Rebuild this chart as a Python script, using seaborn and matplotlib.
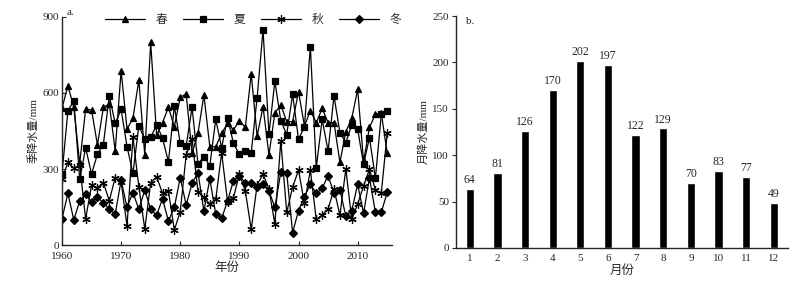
import matplotlib
matplotlib.use("Agg")
import matplotlib.pyplot as plt
import numpy as np
import pandas as pd
import seaborn as sns

# ---- data ----
years = list(range(1960, 2016))

spring = [539, 629, 543, 322, 537, 533, 395, 543, 557, 372,
          688, 458, 500, 651, 355, 800, 434, 483, 543, 467,
          583, 596, 362, 441, 592, 388, 388, 441, 480, 454,
          491, 464, 675, 430, 546, 355, 522, 553, 487, 487,
          605, 470, 530, 483, 539, 483, 483, 326, 447, 500,
          614, 330, 464, 517, 520, 362]

summer = [280, 529, 570, 259, 384, 280, 359, 396, 589, 480,
          535, 388, 283, 471, 417, 425, 474, 422, 328, 549,
          401, 392, 543, 320, 349, 313, 496, 384, 503, 401,
          358, 372, 364, 582, 849, 438, 647, 491, 436, 595,
          417, 467, 783, 305, 496, 371, 589, 443, 404, 474,
          457, 318, 424, 263, 517, 529]

autumn = [260, 326, 303, 316, 103, 235, 226, 246, 175, 266,
          250, 75, 425, 230, 63, 246, 270, 204, 213, 59,
          132, 355, 417, 211, 188, 162, 180, 364, 171, 187,
          280, 213, 62, 237, 280, 221, 83, 412, 129, 228,
          296, 164, 296, 101, 118, 142, 220, 118, 300, 101,
          162, 233, 300, 217, 206, 442]

winter = [103, 204, 99, 174, 200, 171, 188, 167, 141, 122,
          255, 149, 207, 141, 217, 141, 118, 182, 95, 149,
          266, 158, 243, 286, 134, 261, 122, 105, 174, 254,
          272, 246, 243, 230, 239, 213, 149, 287, 286, 49,
          136, 191, 239, 204, 224, 274, 204, 217, 114, 136,
          239, 125, 265, 129, 129, 208]

season_names = ["春", "夏", "秋", "冬"]

months = [str(m) for m in range(1, 13)]
month_rain = [64, 81, 126, 170, 202, 197, 122, 129, 70, 83, 77, 49]

# ---- style ----
sns.set_style("ticks")
plt.rcParams["font.family"] = ["Liberation Serif", "Noto Sans CJK SC"]
plt.rcParams["font.size"] = 8
plt.rcParams["axes.linewidth"] = 1.0

fig = plt.figure(figsize=(8.07, 2.87), dpi=100)
ax1 = fig.add_axes([0.0768, 0.1463, 0.4089, 0.7945])
ax2 = fig.add_axes([0.565, 0.136, 0.411, 0.808])

# ---- a. seasonal series ----
markers = ["^", "s", (6, 2, 0), "D"]
sizes = [4.4, 4.4, 6, 3.8]
for name, vals, mk, ms in zip(season_names, [spring, summer, autumn, winter], markers, sizes):
    sns.lineplot(x=years, y=vals, ax=ax1, color="black", lw=0.9,
                 marker=mk, markersize=ms, markeredgecolor="black",
                 markerfacecolor="black", markeredgewidth=0.9, label=name)

ax1.set_xlim(1960, 2015.8)
ax1.set_ylim(0, 900)
ax1.set_xticks([1960, 1970, 1980, 1990, 2000, 2010])
ax1.set_yticks([0, 300, 600, 900])
ax1.tick_params(direction="in", length=3, width=0.8, labelsize=8)
ax1.tick_params(axis="x", pad=5)
ax1.tick_params(axis="y", pad=2)
ax1.set_xlabel("年份", fontsize=9, labelpad=1)
ax1.set_ylabel("季降水量/mm", fontsize=8, labelpad=3)
sns.despine(ax=ax1)
ax1.text(0.015, 1.02, "a.", transform=ax1.transAxes, fontsize=8, va="center")

leg = ax1.legend(ncol=4, frameon=False, fontsize=8.5, handlelength=3.4,
                 handletextpad=0.9, columnspacing=1.3, borderpad=0,
                 borderaxespad=0, loc="center left",
                 bbox_to_anchor=(105 / 807, 1 - 20 / 287),
                 bbox_transform=fig.transFigure)

# ---- b. monthly bars ----
sns.barplot(x=months, y=month_rain, ax=ax2, color="black", width=0.3,
            saturation=1)
for i, v in enumerate(month_rain):
    ax2.text(i, v + 3, str(v), ha="center", va="bottom", fontsize=8.5)

ax2.set_xlim(-0.5, 11.5)
ax2.set_ylim(0, 250)
ax2.set_yticks(np.arange(0, 251, 50))
ax2.tick_params(axis="y", direction="out", length=3, width=0.8, labelsize=8, pad=2)
ax2.tick_params(axis="x", length=0, labelsize=8, pad=4)
ax2.set_xlabel("月份", fontsize=9, labelpad=2)
ax2.set_ylabel("月降水量/mm", fontsize=8, labelpad=3)
sns.despine(ax=ax2)
ax2.text(0.03, 0.975, "b.", transform=ax2.transAxes, fontsize=8, va="center")

fig.savefig("out.png", dpi=100)
